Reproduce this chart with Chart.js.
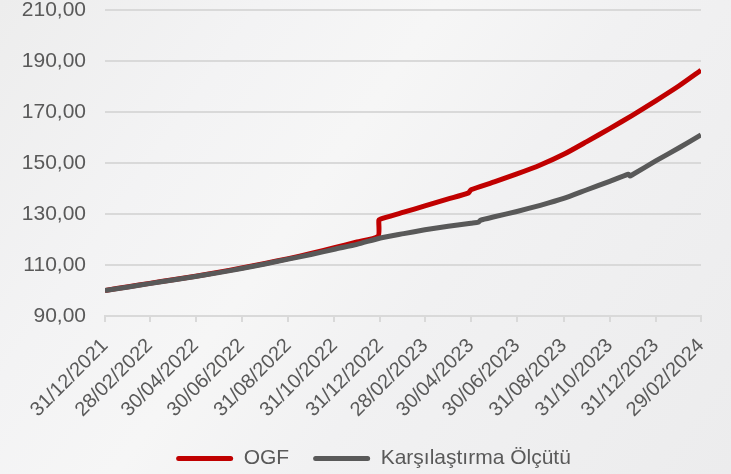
<!DOCTYPE html>
<html>
<head>
<meta charset="utf-8">
<script src="https://cdn.jsdelivr.net/npm/chart.js@4.4.1/dist/chart.umd.min.js"></script>
<style>
  html, body { margin: 0; padding: 0; }
  body {
    width: 731px; height: 474px; overflow: hidden;
    background: linear-gradient(125deg, #ededed 0%, #f3f3f4 25%, #f6f6f6 42%, #f1f1f2 60%, #ececed 100%);
  }
  #wrap { position: relative; width: 731px; height: 474px; }
</style>
</head>
<body>
<div id="wrap"><canvas id="chart"></canvas></div>
<script>
// Veriler //
const ogfDates = ['31/12/2021', '31/01/2022', '28/02/2022', '31/03/2022', '30/04/2022', '31/05/2022',
  '30/06/2022', '31/07/2022', '31/08/2022', '30/09/2022', '31/10/2022', '30/11/2022', '28/12/2022',
  '29/12/2022', '31/12/2022', '31/01/2023', '28/02/2023', '31/03/2023', '27/04/2023', '30/04/2023',
  '31/05/2023', '30/06/2023', '31/07/2023', '31/08/2023', '30/09/2023', '31/10/2023', '30/11/2023',
  '31/12/2023', '31/01/2024', '29/02/2024'];
const ogfValues = [100, 101.5, 102.8, 104.2, 105.6, 107.2, 108.8, 110.6, 112.5, 114.5, 116.8, 119.0, 121.3,
  127.6, 128.0, 130.7, 133.2, 135.9, 138.3, 139.5, 142.6, 145.7, 149.2, 153.4, 158.3, 163.5, 168.7,
  174.4, 180.3, 186.4];

const benchDates = ['31/12/2021', '31/01/2022', '28/02/2022', '31/03/2022', '30/04/2022', '31/05/2022',
  '30/06/2022', '31/07/2022', '31/08/2022', '30/09/2022', '31/10/2022', '30/11/2022', '31/12/2022',
  '31/01/2023', '28/02/2023', '31/03/2023', '30/04/2023', '10/05/2023', '13/05/2023', '31/05/2023',
  '30/06/2023', '31/07/2023', '31/08/2023', '30/09/2023', '31/10/2023', '25/11/2023', '27/11/2023',
  '30/11/2023', '31/12/2023', '31/01/2024', '29/02/2024'];
const benchValues = [100, 101.4, 102.7, 104.1, 105.5, 107.0, 108.6, 110.4, 112.3, 114.1, 116.2, 118.1, 120.6,
  122.3, 123.8, 125.2, 126.4, 126.8, 127.6, 128.9, 131.0, 133.4, 136.1, 139.4, 142.8, 145.6, 144.9,
  145.4, 150.8, 156.0, 161.0];

const tickLabels = ['31/12/2021', '28/02/2022', '30/04/2022', '30/06/2022', '31/08/2022', '31/10/2022',
  '31/12/2022', '28/02/2023', '30/04/2023', '30/06/2023', '31/08/2023', '31/10/2023', '31/12/2023',
  '29/02/2024'];

const yTicks = [90, 110, 130, 150, 170, 190, 210];

// gun sayisi (31/12/2021'den itibaren)
function dayOf(s) {
  const p = s.split('/');
  const t = Date.UTC(+p[2], +p[1] - 1, +p[0]);
  return Math.round((t - Date.UTC(2021, 11, 31)) / 86400000);
}
const toPoints = (dates, vals) => dates.map((d, i) => ({ x: dayOf(d), y: vals[i] }));
const tickDays = tickLabels.map(dayOf);

const textColor = '#595959';
const gridColor = '#d9d9d9';
const fontFamily = '"Liberation Sans", Arial, sans-serif';

const chart = document.querySelector('#chart').getContext('2d');

new Chart(chart, {
  type: 'line',
  data: {
    datasets: [
      {
        label: 'OGF',
        data: toPoints(ogfDates, ogfValues),
        borderColor: '#c00000',
        backgroundColor: '#c00000',
        borderWidth: 5,
        pointRadius: 0,
        tension: 0.2,
        order: 1
      },
      {
        label: 'Karşılaştırma Ölçütü',
        data: toPoints(benchDates, benchValues),
        borderColor: '#595959',
        backgroundColor: '#595959',
        borderWidth: 5,
        pointRadius: 0,
        tension: 0.2,
        order: 0
      }
    ]
  },
  options: {
    responsive: true,
    maintainAspectRatio: false,
    animation: false,
    layout: { padding: { left: 16, right: 0, top: 2, bottom: -5 } },
    plugins: {
      tooltip: { enabled: false },
      legend: {
        position: 'bottom',
        labels: {
          color: textColor,
          font: { family: fontFamily, size: 21 },
          boxWidth: 57,
          boxHeight: 5,
          padding: 24,
          useBorderRadius: true,
          borderRadius: 2.5,
          generateLabels: (c) => c.data.datasets.map((ds, i) => ({
            text: ds.label,
            fillStyle: ds.borderColor,
            strokeStyle: ds.borderColor,
            lineWidth: 0,
            fontColor: textColor,
            datasetIndex: i,
            hidden: false,
            borderRadius: 2.5
          }))
        }
      }
    },
    scales: {
      x: {
        type: 'linear',
        min: 0,
        max: dayOf('29/02/2024'),
        afterBuildTicks: (s) => { s.ticks = tickDays.map(v => ({ value: v })); },
        afterFit: (s) => { s.height = 108; },
        grid: { drawOnChartArea: false, drawTicks: true, tickLength: 6, color: gridColor, lineWidth: 2 },
        border: { color: gridColor, width: 2 },
        ticks: {
          autoSkip: false,
          maxRotation: 45,
          minRotation: 45,
          color: textColor,
          font: { family: fontFamily, size: 20 },
          padding: 12,
          callback: (v) => tickLabels[tickDays.indexOf(v)]
        }
      },
      y: {
        min: 90,
        max: 210,
        afterBuildTicks: (s) => { s.ticks = yTicks.map(v => ({ value: v })); },
        afterFit: (s) => { s.width = 89; s.paddingTop = 10; s.paddingBottom = 0; },
        grid: { color: gridColor, lineWidth: 2, drawTicks: false },
        border: { display: false },
        ticks: {
          color: textColor,
          font: { family: fontFamily, size: 21 },
          padding: 19,
          callback: (v) => v.toFixed(2).replace('.', ',')
        }
      },
      yPad: {
        position: 'right',
        display: true,
        afterFit: (s) => { s.width = 30; s.paddingTop = 0; s.paddingBottom = 0; },
        grid: { display: false },
        border: { display: false },
        ticks: { display: false }
      }
    }
  }
});
</script>
</body>
</html>
